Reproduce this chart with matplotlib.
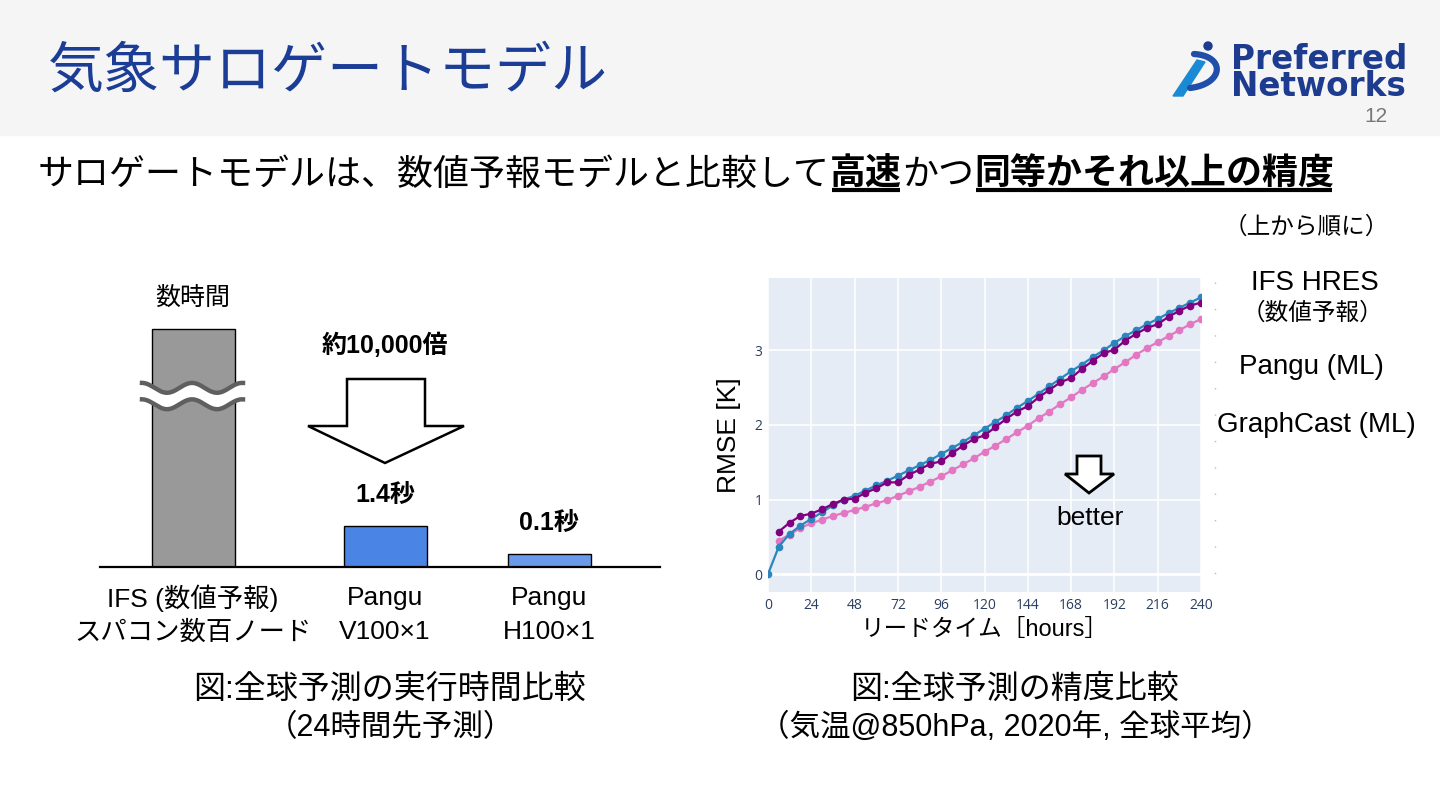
import numpy as np
import matplotlib.pyplot as plt
from matplotlib.patches import Polygon, Rectangle, Circle

W, H = 1440, 810
plt.rcParams['font.family'] = ['Liberation Sans', 'Noto Sans CJK JP', 'DejaVu Sans']

# --- left chart: run time (schematic heights, not to scale) ---
bar_names = ['IFS (数値予報)', 'Pangu', 'Pangu']
bar_hw = ['スパコン数百ノード', 'V100×1', 'H100×1']
bar_times = ['数時間', '1.4秒', '0.1秒']
bar_height = [5.8, 1.0, 0.32]
bar_colors = ['#999999', '#4a84e4', '#6a9bea']
speedup_label = '約10,000倍'

# --- right chart: RMSE of T850 vs lead time ---
lead_hours = np.arange(0, 241, 6)
rmse_ifs = [0.00, 0.37, 0.54, 0.65, 0.74, 0.83, 0.92, 1.00, 1.05, 1.12, 1.19,
            1.25, 1.32, 1.39, 1.46, 1.53, 1.61, 1.69, 1.77, 1.86, 1.95,
            2.04, 2.13, 2.23, 2.32, 2.42, 2.52, 2.62, 2.72, 2.81, 2.91,
            3.00, 3.10, 3.19, 3.27, 3.35, 3.42, 3.50, 3.57, 3.64, 3.71]
rmse_pangu = [0.57, 0.69, 0.78, 0.81, 0.87, 0.94, 1.00, 1.01, 1.09, 1.15,
              1.23, 1.23, 1.33, 1.40, 1.48, 1.51, 1.62, 1.72, 1.81, 1.86,
              1.97, 2.08, 2.18, 2.25, 2.37, 2.47, 2.57, 2.63, 2.75, 2.86,
              2.96, 3.01, 3.13, 3.22, 3.30, 3.35, 3.45, 3.53, 3.60, 3.64]
rmse_graphcast = [0.45, 0.53, 0.62, 0.68, 0.73, 0.78, 0.82, 0.86, 0.90, 0.95,
                  0.99, 1.05, 1.11, 1.17, 1.24, 1.31, 1.39, 1.47, 1.55, 1.64,
                  1.72, 1.81, 1.90, 1.99, 2.09, 2.18, 2.28, 2.37, 2.47, 2.56,
                  2.65, 2.75, 2.84, 2.94, 3.03, 3.11, 3.19, 3.27, 3.35, 3.42]
legend_lines = ['IFS HRES', '（数値予報）', 'Pangu (ML)', 'GraphCast (ML)']

fig = plt.figure(figsize=(14.4, 8.1), dpi=100)


def px_axes(x0, y0, x1, y1, **kw):
    return fig.add_axes([x0 / W, 1 - y1 / H, (x1 - x0) / W, (y1 - y0) / H], **kw)


# overlay in pixel coordinates for slide text and decorations
ov = px_axes(0, 0, W, H, zorder=5)
ov.set_xlim(0, W)
ov.set_ylim(H, 0)
ov.axis('off')
ov.patch.set_visible(False)

# header band
ov.add_patch(Rectangle((0, 0), W, 135, color='#f5f5f5', zorder=0))
ov.text(48, 72, '気象サロゲートモデル', fontsize=40.3, color='#1b3d96',
        family='Noto Sans CJK JP', va='center', ha='left')
ov.text(1388, 117, '12', fontsize=15, color='#777777', va='center', ha='right')

# logo
ov.text(1231, 73, 'Preferred\nNetworks', fontsize=23.5, fontweight='bold',
        color='#1d3c8f', family='DejaVu Sans', va='center', ha='left',
        linespacing=0.8)
ov.add_patch(Circle((1208, 46), 4, color='#1d3c8f'))
ts = np.linspace(0, 1, 60)
bx = (1-ts)**3*1194 + 3*(1-ts)**2*ts*1226 + 3*(1-ts)*ts**2*1224 + ts**3*1190
by = (1-ts)**3*54 + 3*(1-ts)**2*ts*56 + 3*(1-ts)*ts**2*84 + ts**3*88
ov.plot(bx, by, color='#1f4fa8', lw=4.5, solid_capstyle='round')
ov.add_patch(Polygon([(1197, 60), (1205, 62), (1183, 96), (1173, 96)],
                     color='#1a8ad4'))

# subtitle with bold + underlined parts
segments = [('サロゲートモデルは、数値予報モデルと比較して', False), ('高速', True),
            ('かつ', False), ('同等かそれ以上の精度', True)]
fig.canvas.draw()
renderer = fig.canvas.get_renderer()
inv = ov.transData.inverted()
x = 38
for s, bold in segments:
    t = ov.text(x, 185, s, fontsize=25.9, fontweight='bold' if bold else 'normal',
                color='black', va='baseline', ha='left')
    bb = t.get_window_extent(renderer=renderer)
    x0 = inv.transform((bb.x0, 0))[0]
    x1 = inv.transform((bb.x1, 0))[0]
    if bold:
        ov.plot([x0 + 2, x1 - 2], [190, 190], color='black', lw=3, solid_capstyle='butt')
    x = x1

# ---------- left bar chart ----------
bar_pos = [93, 285, 449]
axl = px_axes(100, 300, 660, 567)
axl.set_xlim(0, 560)
axl.set_ylim(0, 6.5)
axl.bar(bar_pos, bar_height, width=83, color=bar_colors, edgecolor='black',
        linewidth=1.0, zorder=2)
for sp in ['top', 'right', 'left']:
    axl.spines[sp].set_visible(False)
axl.spines['bottom'].set_linewidth(1.6)
axl.set_xticks([])
axl.set_yticks([])
axl.patch.set_visible(False)
for i, (p, h) in enumerate(zip(bar_pos, bar_height)):
    axl.annotate(bar_times[i], (p, h), xytext=(0, 22.5), textcoords='offset points',
                 ha='center', va='center', fontsize=18,
                 fontweight='normal' if i == 0 else 'bold', annotation_clip=False)
    axl.annotate(bar_names[i], (p, 0), xytext=(0, -22.5), textcoords='offset points',
                 ha='center', va='center', fontsize=19, annotation_clip=False)
    axl.annotate(bar_hw[i], (p, 0), xytext=(0, -47), textcoords='offset points',
                 ha='center', va='center', fontsize=19, annotation_clip=False)

# wavy break on the IFS bar
wx = np.linspace(bar_pos[0] - 51, bar_pos[0] + 50, 200)
wy = 0.752 * bar_height[0] + 0.12 * np.cos(2 * np.pi * (wx - wx[0]) / 50)
axl.fill_between(wx, wy, wy - 0.4, color='white', zorder=3, clip_on=False)
axl.plot(wx, wy, color='#5f5f5f', lw=3.2, zorder=4, clip_on=False)
axl.plot(wx, wy - 0.4, color='#5f5f5f', lw=3.2, zorder=4, clip_on=False)

# big hollow arrow
ov.text(385, 345, speedup_label, fontsize=18, fontweight='bold', ha='center', va='center')
ov.add_patch(Polygon([(347, 379), (425, 379), (425, 426), (464, 426), (385, 463),
                      (308, 426), (347, 426)], closed=True, facecolor='white',
                     edgecolor='black', lw=1.8, joinstyle='miter'))

ov.text(390, 690, '図:全球予測の実行時間比較', fontsize=23, ha='center', va='center')
ov.text(390, 728, '（24時間先予測）', fontsize=22, ha='center', va='center')

# ---------- right line chart (plotly look) ----------
axr = px_axes(768, 278, 1201, 592)
axr.set_facecolor('#e5ecf6')
axr.plot(lead_hours[1:], rmse_graphcast, '-o', color='#e377c2', lw=1.6, ms=4.5, zorder=3)
axr.plot(lead_hours, rmse_ifs, '-o', color='#2a86bd', lw=1.6, ms=4.5, zorder=4)
axr.plot(lead_hours[1:], rmse_pangu, '-o', color='#800080', lw=1.6, ms=4.5, zorder=5)
axr.set_xlim(0, 240)
axr.set_ylim(-0.24, 3.97)
axr.set_xticks(np.arange(0, 241, 24))
axr.set_yticks([0, 1, 2, 3])
axr.grid(True, color='white', lw=1.1)
axr.axhline(0, color='white', lw=2, zorder=1)
axr.set_axisbelow(True)
for sp in axr.spines.values():
    sp.set_visible(False)
axr.tick_params(length=0, labelsize=10, labelcolor='#2a3f5f', pad=4)
for lab in axr.get_xticklabels() + axr.get_yticklabels():
    lab.set_family('Open Sans')
axr.set_ylabel('RMSE [K]', fontsize=19, labelpad=10)
axr.set_xlabel('リードタイム［hours］', fontsize=17, labelpad=5)

# "better" arrow
ov.add_patch(Polygon([(1077, 456), (1101, 456), (1101, 474), (1114, 474), (1089, 493),
                      (1065, 474), (1077, 474)], closed=True, facecolor='white',
                     edgecolor='black', lw=2, joinstyle='miter'))
ov.text(1090, 518, 'better', fontsize=19, ha='center', va='center')

# faint legend remnant
ov.plot([1215, 1215], [282, 590], color='#bbbbbb', lw=1, dashes=(1, 18))

# legend text (top to bottom)
ov.text(1306, 228, '（上から順に）', fontsize=17, ha='center', va='center')
ov.text(1315, 283, legend_lines[0], fontsize=20, ha='center', va='center')
ov.text(1312, 313, legend_lines[1], fontsize=17, ha='center', va='center')
ov.text(1311, 367, legend_lines[2], fontsize=20, ha='center', va='center')
ov.text(1316, 425, legend_lines[3], fontsize=20, ha='center', va='center')

ov.text(1015, 690, '図:全球予測の精度比較', fontsize=23, ha='center', va='center')
ov.text(1015, 728, '（気温@850hPa, 2020年, 全球平均）', fontsize=22, ha='center', va='center')

fig.savefig('out.png', dpi=100)
